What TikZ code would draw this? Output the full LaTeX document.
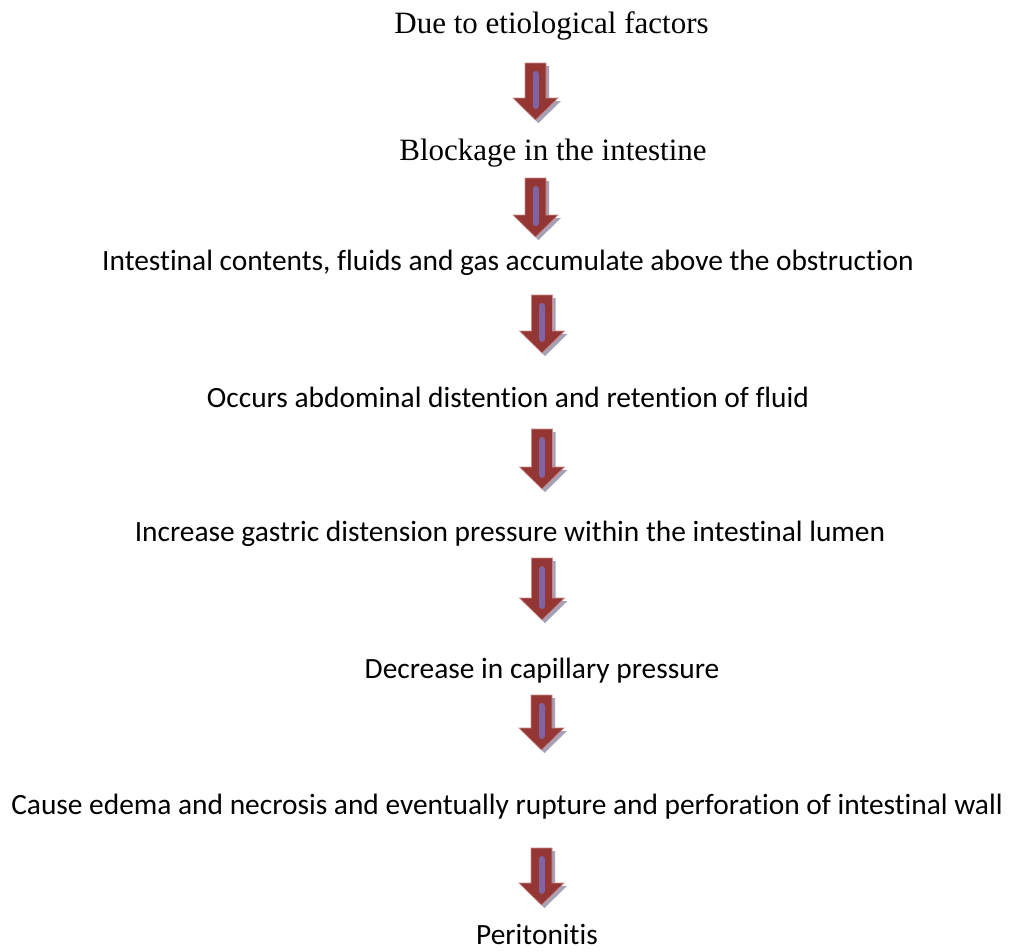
\documentclass[tikz,border=0pt]{standalone}
\usepackage{fontspec}
\setmainfont{Liberation Serif}
\newfontfamily\calibrifont[Ligatures=NoCommon]{Carlito}
\usepackage{xcolor}
\usepackage{tikz}
\usetikzlibrary{calc}

\definecolor{arrowred}{HTML}{943634}
\definecolor{arrowedge}{HTML}{C98A88}
\definecolor{arrowgray}{HTML}{A7A0B6}
\definecolor{arrowpurple}{HTML}{8064A2}

% outline of one block arrow, #3 is an offset (for the shadow)
\newcommand{\arrowpath}[3]{($(#1)+(#3)+(-10.5,0)$) -- ($(#1)+(#3)+(10.5,0)$)
  -- ($(#2)+(#3)+(10.5,-22)$) -- ($(#2)+(#3)+(22.5,-22)$) -- ($(#2)+(#3)$)
  -- ($(#2)+(#3)+(-22.5,-22)$) -- ($(#2)+(#3)+(-10.5,-22)$) -- cycle}
\newcommand{\flowarrow}[2]{%
  \fill[arrow_shadow] \arrowpath{#1}{#2}{3,3};
  \filldraw[arrow_body] \arrowpath{#1}{#2}{0,0};
  \draw[arrow_stripe] ($(#1)+(0,11)$) -- ($(#2)+(0,-14)$);
}

\begin{document}
\begin{tikzpicture}[
x=1pt, y=-1pt,
serif_node/.style={anchor=base, inner sep=0pt, font=\fontsize{31}{34}\selectfont},
sans_node/.style={anchor=base, inner sep=0pt, font=\calibrifont\fontsize{29.4}{33}\selectfont},
arrow_body/.style={fill=arrowred, draw=arrowedge, line width=0.6pt},
arrow_shadow/.style={fill=arrowgray},
arrow_stripe/.style={draw=arrowpurple, line width=6pt, line cap=round}
]
\useasboundingbox[fill=white] (0,0) rectangle (1009,951);

% Steps
\node[serif_node] (t1) at (551.5,33) {Due to etiological factors};
\node[serif_node] (t2) at (553,160) {Blockage in the intestine};
\node[sans_node] (t3) at (508,270) {Intestinal contents, fluids and gas accumulate above the obstruction};
\node[sans_node] (t4) at (508,407) {Occurs abdominal distention and retention of fluid};
\node[sans_node] (t5) at (510,541) {Increase gastric distension pressure within the intestinal lumen};
\node[sans_node] (t6) at (542,678) {Decrease in capillary pressure};
\node[sans_node] (t7) at (507,814) {Cause edema and necrosis and eventually rupture and perforation of intestinal wall};
\node[sans_node] (t8) at (537,944) {Peritonitis};

% Arrow ends
\coordinate (s1) at (535.5,63);  \coordinate (e1) at (535.5,120);
\coordinate (s2) at (535.5,178); \coordinate (e2) at (535.5,237);
\coordinate (s3) at (542,295);   \coordinate (e3) at (542,353);
\coordinate (s4) at (542,429);   \coordinate (e4) at (542,489);
\coordinate (s5) at (542,558);   \coordinate (e5) at (542,620);
\coordinate (s6) at (541.5,695); \coordinate (e6) at (541.5,750);
\coordinate (s7) at (541.5,848); \coordinate (e7) at (541.5,905);

% Arrows
\flowarrow{s1}{e1}
\flowarrow{s2}{e2}
\flowarrow{s3}{e3}
\flowarrow{s4}{e4}
\flowarrow{s5}{e5}
\flowarrow{s6}{e6}
\flowarrow{s7}{e7}
\end{tikzpicture}
\end{document}
